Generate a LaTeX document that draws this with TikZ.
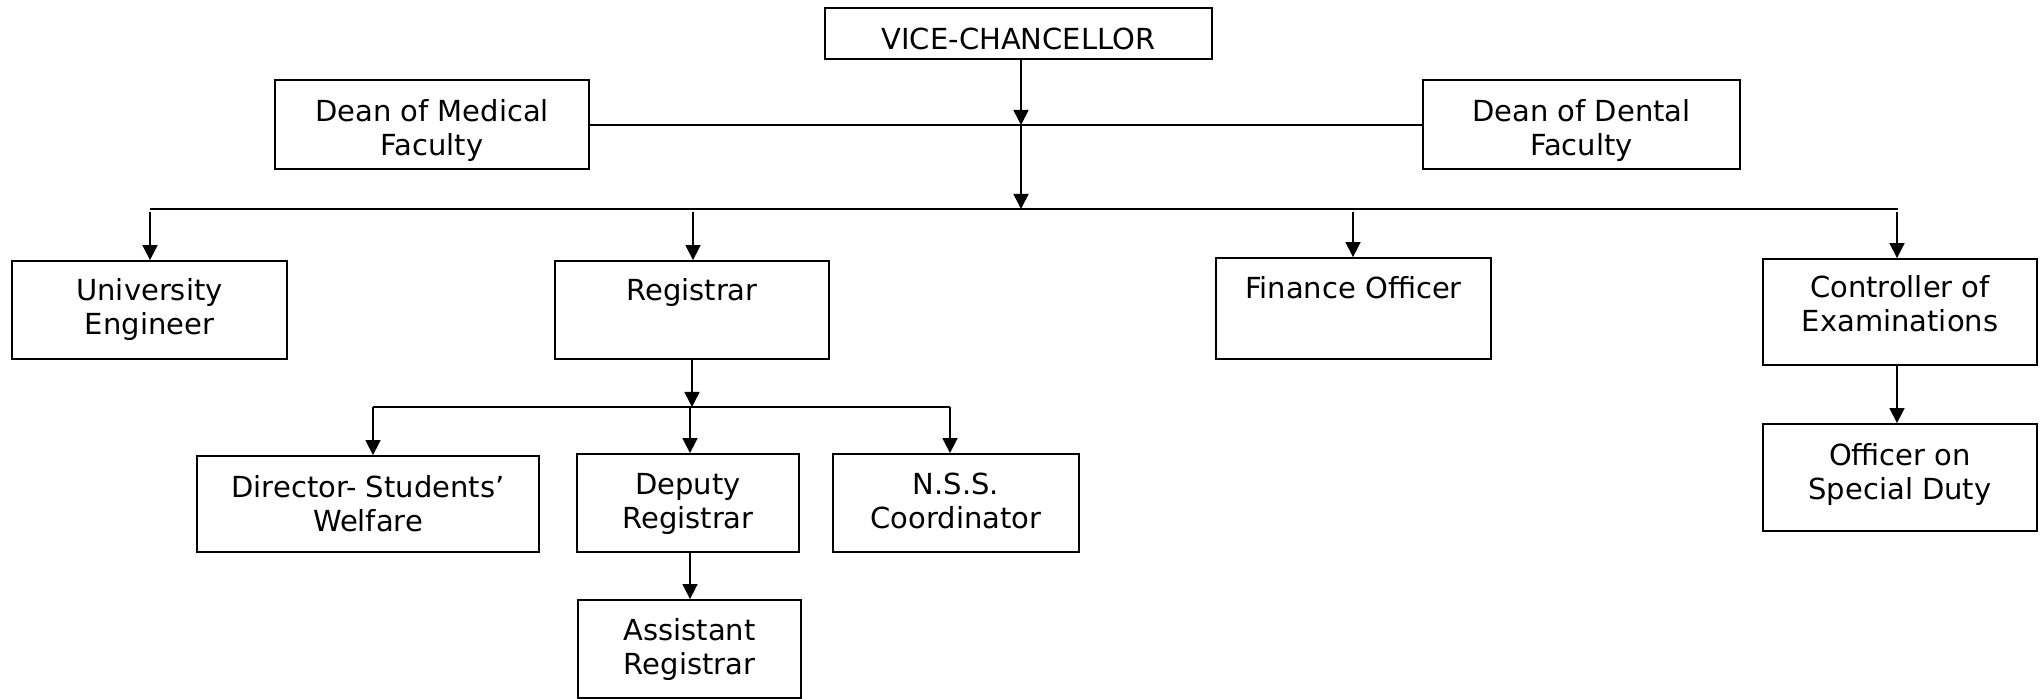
\documentclass[tikz,border=0pt]{standalone}
\usepackage{fontspec}
\setmainfont{DejaVu Sans}
\usetikzlibrary{arrows.meta,fit}
\newcommand\ts{\rule{0pt}{11pt}}
\begin{document}
\begin{tikzpicture}[x=0.5pt,y=-0.5pt,
  box/.style={draw=black,line width=0.9pt,inner sep=0pt,rectangle},
  txt/.style={inner sep=0pt,align=center,anchor=north,font=\fontsize{14.5pt}{17.25pt}\selectfont},
  conn/.style={line width=0.8pt},
  arr/.style={line width=0.8pt,-{Triangle[length=7.5pt,width=7.5pt]}}]
\useasboundingbox (0,0) rectangle (2040,699);
% boxes
\node[box,fit={(825,8) (1212,59)}] (vc) {};
\node[box,fit={(275,80) (589,169)}] (dmed) {};
\node[box,fit={(1423,80) (1740,169)}] (dden) {};
\node[box,fit={(12,261) (287,359)}] (ue) {};
\node[box,fit={(555,261) (829,359)}] (reg) {};
\node[box,fit={(1216,258) (1491,359)}] (fo) {};
\node[box,fit={(1763,259) (2037,365)}] (coe) {};
\node[box,fit={(1763,424) (2037,531)}] (osd) {};
\node[box,fit={(197,456) (539,552)}] (dir) {};
\node[box,fit={(577,454) (799,552)}] (dep) {};
\node[box,fit={(833,454) (1079,552)}] (nss) {};
\node[box,fit={(578,600) (801,698)}] (asst) {};
% texts
\node[txt] (vc-t) at (1018.5,27) {\ts VICE-CHANCELLOR};
\node[txt] (dmed-t) at (432,99) {\ts Dean of Medical\\Faculty};
\node[txt] (dden-t) at (1581.5,99) {\ts Dean of Dental\\Faculty};
\node[txt] (ue-t) at (149.5,278) {\ts University\\Engineer};
\node[txt] (reg-t) at (692,278) {\ts Registrar};
\node[txt] (fo-t) at (1353.5,276) {\ts Finance Officer};
\node[txt] (coe-t) at (1900,275) {\ts Controller of\\Examinations};
\node[txt] (osd-t) at (1900,443) {\ts Officer on\\Special Duty};
\node[txt] (dir-t) at (368,475) {\ts Director- Students’\\Welfare};
\node[txt] (dep-t) at (688,472) {\ts Deputy\\Registrar};
\node[txt] (nss-t) at (956,472) {\ts N.S.S.\\Coordinator};
\node[txt] (asst-t) at (689.5,618) {\ts Assistant\\Registrar};
% junctions
\coordinate (j1) at (1021,125);
\coordinate (j2) at (1021,209);
\coordinate (jl) at (150,209);
\coordinate (jr) at (1898,209);
\coordinate (r1) at (692,407);
\coordinate (rl) at (373,407);
\coordinate (rr) at (950,407);
% top connectors
\draw[arr] (vc.south -| j1) -- (j1);
\draw[conn] (dmed.east |- j1) -- (dden.west |- j1);
\draw[arr] (j1) -- (j2);
\draw[conn] (jl) -- (jr);
\draw[arr] (150,212) -- (ue.north -| 150,0);
\draw[arr] (693,212) -- (reg.north -| 693,0);
\draw[arr] (1353,212) -- (fo.north -| 1353,0);
\draw[arr] (1897,212) -- (coe.north -| 1897,0);
\draw[arr] (coe.south -| 1897,0) -- (osd.north -| 1897,0);
% registrar connectors
\draw[arr] (reg.south -| r1) -- (r1);
\draw[conn] (rl) -- (rr);
\draw[arr] (rl) -- (dir.north -| rl);
\draw[arr] (690,407) -- (dep.north -| 690,0);
\draw[arr] (rr) -- (nss.north -| rr);
\draw[arr] (dep.south -| 690,0) -- (asst.north -| 690,0);
\end{tikzpicture}
\end{document}
